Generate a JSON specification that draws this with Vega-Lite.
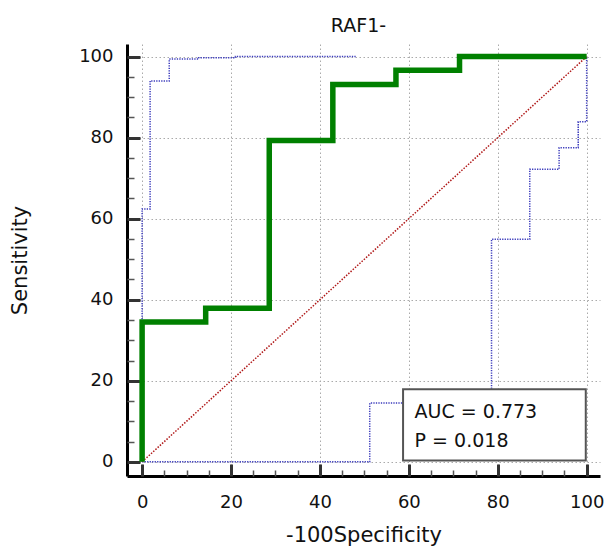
{
  "$schema": "https://vega.github.io/schema/vega-lite/v6.json",
  "autosize": "none",
  "padding": {"left": 127, "top": 44, "right": 4, "bottom": 71},
  "width": 473,
  "height": 432,
  "background": "white",
  "title": {"text": "RAF1-", "font": "DejaVu Sans", "fontSize": 19, "fontWeight": "normal", "color": "#111", "offset": 8, "dx": -5},
  "config": {
    "view": {"stroke": null},
    "axis": {
      "labelFont": "DejaVu Sans", "titleFont": "DejaVu Sans",
      "labelFontSize": 18, "titleFontSize": 21, "titleFontWeight": "normal",
      "labelColor": "#111", "titleColor": "#111",
      "domainColor": "#000", "domainWidth": 3,
      "gridColor": "#aaaaaa", "gridDash": [1.5, 2.5], "gridWidth": 1
    }
  },
  "resolve": {"axis": {"x": "independent", "y": "independent"}},
  "datasets": {
    "curves": [
      {"series": "roc", "order": 1, "x": 0, "y": 0},
      {"series": "roc", "order": 2, "x": 0, "y": 34.5},
      {"series": "roc", "order": 3, "x": 14.3, "y": 34.5},
      {"series": "roc", "order": 4, "x": 14.3, "y": 37.9},
      {"series": "roc", "order": 5, "x": 28.6, "y": 37.9},
      {"series": "roc", "order": 6, "x": 28.6, "y": 79.3},
      {"series": "roc", "order": 7, "x": 42.9, "y": 79.3},
      {"series": "roc", "order": 8, "x": 42.9, "y": 93.1},
      {"series": "roc", "order": 9, "x": 57.1, "y": 93.1},
      {"series": "roc", "order": 10, "x": 57.1, "y": 96.6},
      {"series": "roc", "order": 11, "x": 71.4, "y": 96.6},
      {"series": "roc", "order": 12, "x": 71.4, "y": 100},
      {"series": "roc", "order": 13, "x": 100, "y": 100},
      {"series": "diag", "order": 1, "x": 0, "y": 0},
      {"series": "diag", "order": 2, "x": 100, "y": 100},
      {"series": "upper", "order": 1, "x": 0, "y": 0},
      {"series": "upper", "order": 2, "x": 0, "y": 62.4},
      {"series": "upper", "order": 3, "x": 1.8, "y": 62.4},
      {"series": "upper", "order": 4, "x": 1.8, "y": 94},
      {"series": "upper", "order": 5, "x": 6.1, "y": 94},
      {"series": "upper", "order": 6, "x": 6.1, "y": 99.4},
      {"series": "upper", "order": 7, "x": 12.7, "y": 99.4},
      {"series": "upper", "order": 8, "x": 12.7, "y": 99.7},
      {"series": "upper", "order": 9, "x": 21, "y": 99.7},
      {"series": "upper", "order": 10, "x": 21, "y": 100},
      {"series": "upper", "order": 11, "x": 48.3, "y": 100},
      {"series": "lower", "order": 1, "x": 0, "y": 0},
      {"series": "lower", "order": 2, "x": 51.2, "y": 0},
      {"series": "lower", "order": 3, "x": 51.2, "y": 14.5},
      {"series": "lower", "order": 4, "x": 78.6, "y": 14.5},
      {"series": "lower", "order": 5, "x": 78.6, "y": 54.9},
      {"series": "lower", "order": 6, "x": 87.2, "y": 54.9},
      {"series": "lower", "order": 7, "x": 87.2, "y": 72.2},
      {"series": "lower", "order": 8, "x": 93.8, "y": 72.2},
      {"series": "lower", "order": 9, "x": 93.8, "y": 77.5},
      {"series": "lower", "order": 10, "x": 98.1, "y": 77.5},
      {"series": "lower", "order": 11, "x": 98.1, "y": 83.9},
      {"series": "lower", "order": 12, "x": 100, "y": 83.9},
      {"series": "lower", "order": 13, "x": 100, "y": 100}
    ]
  },
  "layer": [
    {"data": {"name": "curves"},
     "transform": [{"filter": "datum.series === 'upper' || datum.series === 'lower'"}],
     "mark": {"type": "line", "color": "#3c3cbc", "strokeWidth": 1.5, "strokeDash": [1.3, 1.2]},
     "encoding": {
       "x": {"field": "x", "type": "quantitative",
         "scale": {"domain": [-3.4, 103], "nice": false, "zero": false},
         "axis": {"orient": "bottom", "title": "-100Specificity",
           "values": [0, 20, 40, 60, 80, 100], "ticks": false,
           "labelPadding": 17, "titlePadding": 13}},
       "y": {"field": "y", "type": "quantitative",
         "scale": {"domain": [-3.5, 103.1], "nice": false, "zero": false},
         "axis": {"orient": "left", "title": "Sensitivity",
           "values": [0, 20, 40, 60, 80, 100], "ticks": false,
           "labelPadding": 14, "titlePadding": 48}},
       "detail": {"field": "series", "type": "nominal"},
       "order": {"field": "order", "type": "quantitative"}
     }},
    {"data": {"name": "curves"},
     "transform": [{"filter": "datum.series === 'diag'"}],
     "mark": {"type": "line", "color": "#b01818", "strokeWidth": 1.5, "strokeDash": [1.5, 1.5]},
     "encoding": {
       "x": {"field": "x", "type": "quantitative",
         "axis": {"orient": "bottom", "title": null, "labels": false, "domain": false, "grid": false,
           "values": [5, 10, 15, 25, 30, 35, 45, 50, 55, 65, 70, 75, 85, 90, 95],
           "offset": -6, "tickSize": 6, "tickWidth": 1.5, "tickColor": "#555"}},
       "y": {"field": "y", "type": "quantitative",
         "axis": {"orient": "left", "title": null, "labels": false, "domain": false, "grid": false,
           "values": [5, 10, 15, 25, 30, 35, 45, 50, 55, 65, 70, 75, 85, 90, 95],
           "offset": -7, "tickSize": 7, "tickWidth": 1.5, "tickColor": "#555"}},
       "order": {"field": "order", "type": "quantitative"}
     }},
    {"data": {"name": "curves"},
     "transform": [{"filter": "datum.series === 'roc'"}],
     "mark": {"type": "line", "color": "#008000", "strokeWidth": 5.5, "strokeJoin": "miter", "strokeCap": "butt"},
     "encoding": {
       "x": {"field": "x", "type": "quantitative",
         "axis": {"orient": "bottom", "title": null, "labels": false, "domain": false, "grid": false,
           "values": [0, 20, 40, 60, 80, 100],
           "offset": -12, "tickSize": 12, "tickWidth": 3, "tickColor": "#333"}},
       "y": {"field": "y", "type": "quantitative",
         "axis": {"orient": "left", "title": null, "labels": false, "domain": false, "grid": false,
           "values": [0, 20, 40, 60, 80, 100],
           "offset": -13, "tickSize": 13, "tickWidth": 3, "tickColor": "#333"}},
       "order": {"field": "order", "type": "quantitative"}
     }},
    {"data": {"values": [{}]},
     "mark": {"type": "rect", "fill": "white", "stroke": "#555", "strokeWidth": 2},
     "encoding": {
       "x": {"datum": 58.7, "type": "quantitative", "axis": null},
       "x2": {"datum": 99.8},
       "y": {"datum": 0.3, "type": "quantitative", "axis": null},
       "y2": {"datum": 17.9}
     }},
    {"data": {"values": [{}]},
     "mark": {"type": "text", "text": ["AUC = 0.773", "P = 0.018"], "font": "DejaVu Sans", "fontSize": 19, "lineHeight": 29, "align": "left", "baseline": "middle", "color": "#111"},
     "encoding": {
       "x": {"datum": 61.3, "type": "quantitative", "axis": null},
       "y": {"datum": 12.2, "type": "quantitative", "axis": null}
     }}
  ]
}
